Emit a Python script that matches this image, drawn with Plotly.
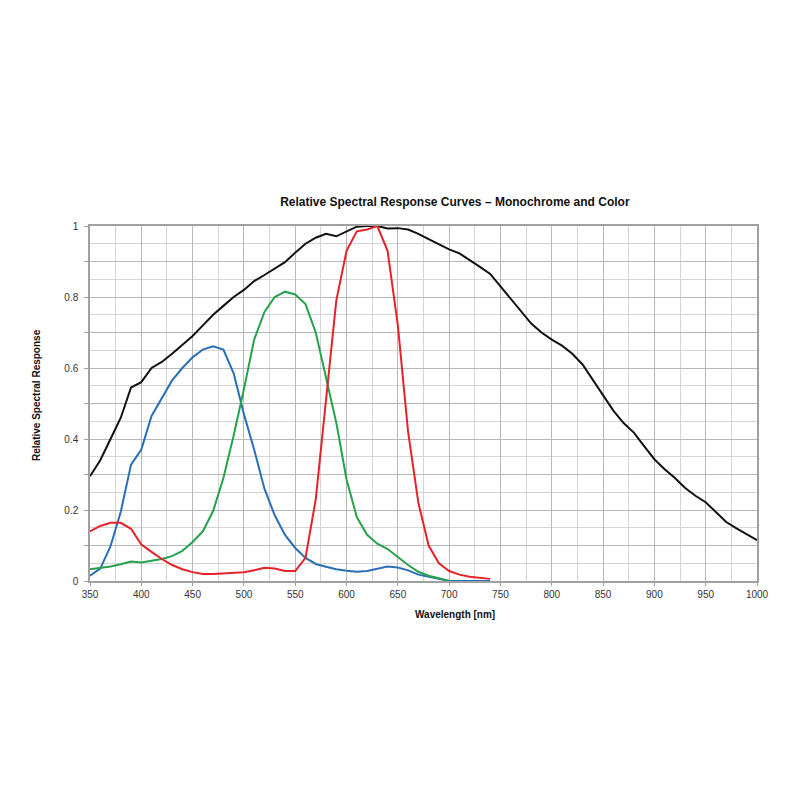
import plotly.graph_objects as go

# wavelength grid (nm)
wl_mono = list(range(350, 1001, 10))
wl_color = list(range(350, 741, 10))

mono = [0.295, 0.34, 0.40, 0.46, 0.545, 0.56, 0.60, 0.617, 0.64, 0.665,
        0.69, 0.72, 0.75, 0.775, 0.80, 0.82, 0.845, 0.862, 0.88, 0.898,
        0.925, 0.95, 0.967, 0.978, 0.971, 0.985, 0.998, 1.0, 1.0, 0.993,
        0.994, 0.99, 0.978, 0.963, 0.948, 0.934, 0.923, 0.905, 0.885, 0.865,
        0.83, 0.795, 0.76, 0.725, 0.70, 0.68, 0.663, 0.64, 0.61, 0.567,
        0.525, 0.48, 0.445, 0.418, 0.38, 0.343, 0.315, 0.29, 0.262, 0.24,
        0.222, 0.195, 0.166, 0.148, 0.132, 0.115]

blue = [0.015, 0.035, 0.098, 0.195, 0.328, 0.37, 0.465, 0.515, 0.565, 0.60,
        0.63, 0.652, 0.661, 0.652, 0.585, 0.47, 0.37, 0.26, 0.185, 0.13,
        0.093, 0.065, 0.048, 0.04, 0.033, 0.029, 0.026, 0.028, 0.035, 0.041,
        0.038, 0.03, 0.018, 0.012, 0.007, 0.0, 0.0, 0.0, 0.0, 0.0]

green = [0.033, 0.036, 0.041, 0.047, 0.055, 0.052, 0.057, 0.062, 0.07, 0.085,
         0.11, 0.14, 0.197, 0.29, 0.41, 0.54, 0.68, 0.758, 0.80, 0.815,
         0.807, 0.78, 0.70, 0.575, 0.446, 0.286, 0.18, 0.13, 0.105, 0.09,
         0.068, 0.045, 0.026, 0.015, 0.008, 0.0]

red = [0.14, 0.155, 0.164, 0.164, 0.147, 0.103, 0.082, 0.062, 0.045, 0.033,
       0.025, 0.02, 0.02, 0.021, 0.022, 0.025, 0.03, 0.037, 0.035, 0.028,
       0.028, 0.065, 0.23, 0.52, 0.79, 0.93, 0.985, 0.99, 1.0, 0.93,
       0.72, 0.42, 0.22, 0.10, 0.05, 0.028, 0.018, 0.012, 0.009, 0.006]

y_ticks = [0, 0.1, 0.2, 0.3, 0.4, 0.5, 0.6, 0.7, 0.8, 0.9, 1.0]
y_tick_labels = ['0', '', '0.2', '', '0.4', '', '0.6', '', '0.8', '', '1']
x_ticks = list(range(350, 1001, 50))

fig = go.Figure()
fig.add_trace(go.Scatter(x=wl_mono, y=mono, mode='lines',
                         line=dict(color='#111111', width=2)))
fig.add_trace(go.Scatter(x=wl_color[:len(blue)], y=blue, mode='lines',
                         line=dict(color='#2a6fb6', width=2)))
fig.add_trace(go.Scatter(x=wl_color[:len(green)], y=green, mode='lines',
                         line=dict(color='#26a24c', width=2)))
fig.add_trace(go.Scatter(x=wl_color[:len(red)], y=red, mode='lines',
                         line=dict(color='#e62229', width=2)))

# page body adds an 8px offset, so margins are trimmed accordingly
fig.update_layout(
    width=800, height=800,
    margin=dict(l=82, r=51, t=218, b=227),
    paper_bgcolor='white', plot_bgcolor='white',
    showlegend=False,
    font=dict(family='Liberation Sans, Arial', size=10, color='#333333'),
    title=dict(text='<b>Relative Spectral Response Curves \u2013 Monochrome and Color</b>',
               x=0.547, xref='paper', xanchor='center',
               y=1 - 194 / 800, yref='container', yanchor='middle',
               font=dict(size=12, color='#111111')),
)

fig.update_xaxes(
    range=[350, 1000], tickvals=x_ticks, ticks='outside', ticklen=3,
    tickcolor='#a0a0a0',
    showgrid=True, gridcolor='#b8b8b8', gridwidth=1.2,
    minor=dict(dtick=25, tick0=350, showgrid=True, gridcolor='#d4d4d4', gridwidth=1),
    showline=True, linecolor='#a0a0a0', linewidth=1.5, mirror=True,
    zeroline=False, tickfont=dict(size=10, color='#333333'),
)
fig.update_yaxes(
    range=[0, 1], tickvals=y_ticks, ticktext=y_tick_labels, ticks='outside',
    ticklen=4, tickcolor='#a0a0a0',
    showgrid=True, gridcolor='#b8b8b8', gridwidth=1.2,
    minor=dict(dtick=0.05, tick0=0, showgrid=True, gridcolor='#d4d4d4', gridwidth=1),
    showline=True, linecolor='#a0a0a0', linewidth=1.5, mirror=True,
    zeroline=False, ticklabelstandoff=4, tickfont=dict(size=10, color='#333333'),
)

fig.add_annotation(text='<b>Wavelength [nm]</b>', xref='paper', yref='paper',
                   x=0.547, y=-0.093, xanchor='center', yanchor='middle',
                   showarrow=False, font=dict(size=10, color='#111111'))
fig.add_annotation(text='<b>Relative Spectral Response</b>', xref='paper', yref='paper',
                   x=-0.0795, y=0.524, xanchor='center', yanchor='middle',
                   showarrow=False, textangle=-90,
                   font=dict(size=10, color='#111111'))

fig.write_html("out.html")
